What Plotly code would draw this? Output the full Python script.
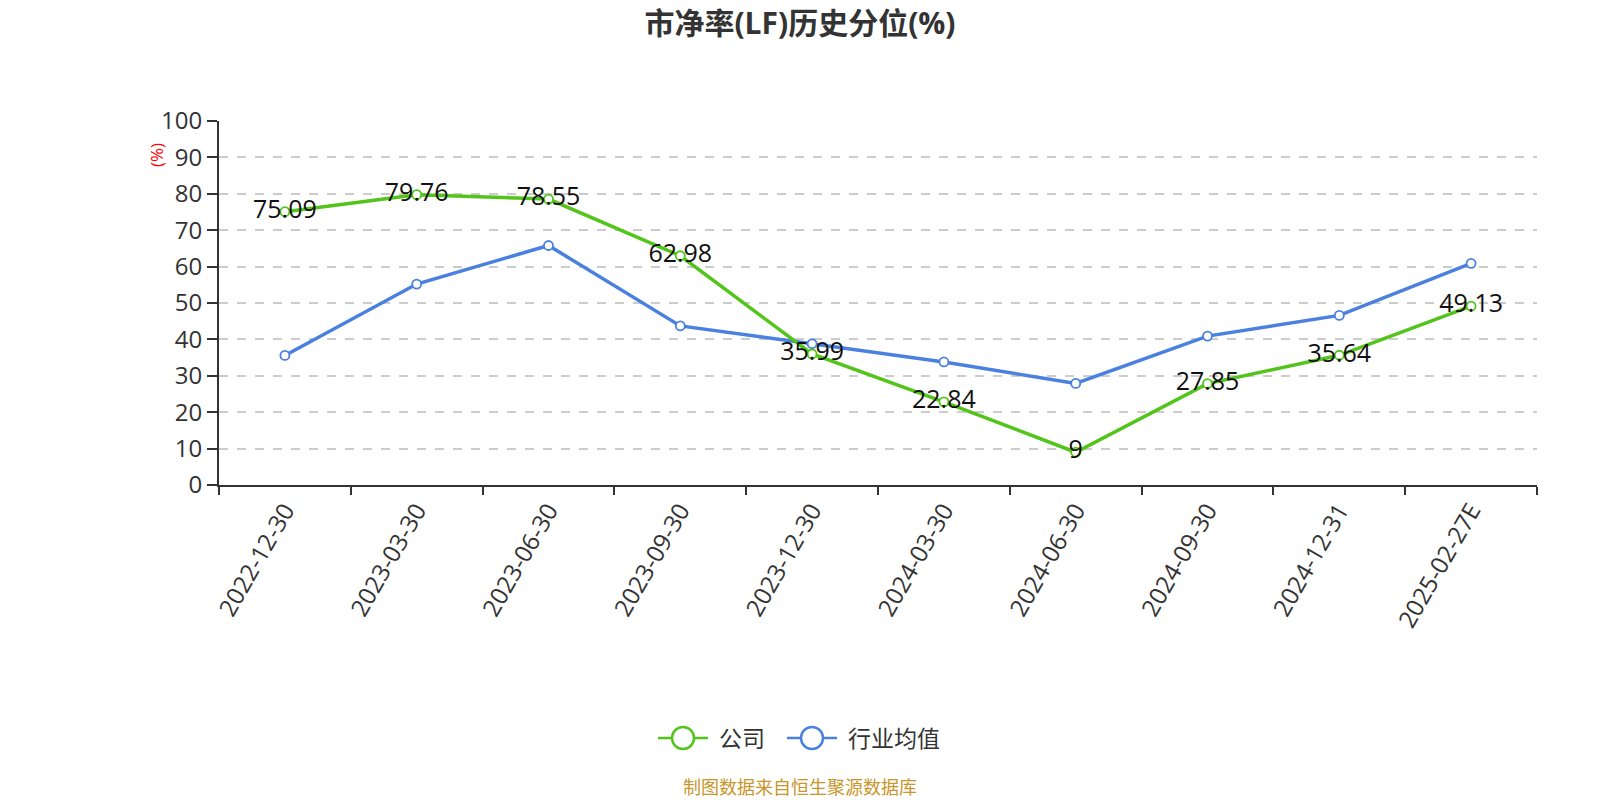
import plotly.graph_objects as go

categories = ["2022-12-30", "2023-03-30", "2023-06-30", "2023-09-30", "2023-12-30",
              "2024-03-30", "2024-06-30", "2024-09-30", "2024-12-31", "2025-02-27E"]
company = [75.09, 79.76, 78.55, 62.98, 35.99, 22.84, 9, 27.85, 35.64, 49.13]
industry = [35.6, 55.2, 65.8, 43.7, 38.8, 33.8, 27.9, 40.9, 46.6, 60.9]
company_labels = ["75.09", "79.76", "78.55", "62.98", "35.99", "22.84", "9", "27.85", "35.64", "49.13"]
series_names = ["公司", "行业均值"]

GREEN = "#52c41a"
BLUE = "#4a80e0"
FONT = "Open Sans, Noto Sans CJK SC, sans-serif"

L, R, T, B = 219, 63, 121, 315
PW = 1600 - L - R
PH = 800 - T - B


def px_x(x):
    return (x - L) / PW


def px_y(y):
    return (800 - B - y) / PH


fig = go.Figure()
fig.add_trace(go.Scatter(
    x=categories, y=industry, mode="lines+markers", name=series_names[1],
    line=dict(color=BLUE, width=3.5),
    marker=dict(symbol="circle", size=9, color="white", line=dict(color=BLUE, width=1.8)),
    showlegend=False, hoverinfo="skip"))
fig.add_trace(go.Scatter(
    x=categories, y=company, mode="lines+markers+text", name=series_names[0],
    line=dict(color=GREEN, width=3.5),
    marker=dict(symbol="circle", size=9, color="white", line=dict(color=GREEN, width=1.8)),
    text=company_labels, textposition="middle center",
    textfont=dict(size=25, color="#111111", family=FONT),
    showlegend=False, hoverinfo="skip"))

# manual legend (line + hollow circle + label)
shapes = []
annotations = []
legend_items = [(series_names[0], GREEN, 658), (series_names[1], BLUE, 787)]
LY = 738
for name, color, x0 in legend_items:
    shapes.append(dict(type="line", xref="paper", yref="paper",
                       x0=px_x(x0), x1=px_x(x0 + 50), y0=px_y(LY), y1=px_y(LY),
                       line=dict(color=color, width=2.5)))
    cx = x0 + 25
    shapes.append(dict(type="circle", xref="paper", yref="paper",
                       x0=px_x(cx - 11), x1=px_x(cx + 11), y0=px_y(LY + 11), y1=px_y(LY - 11),
                       fillcolor="white", line=dict(color=color, width=2.5)))
    annotations.append(dict(text=name, x=px_x(x0 + 59), y=px_y(LY), xref="paper", yref="paper",
                            xanchor="left", yanchor="middle", showarrow=False,
                            font=dict(size=23, color="#333333", family=FONT)))

annotations += [
    dict(text="(%)", x=px_x(156), y=px_y(155), xref="paper", yref="paper", showarrow=False,
         xanchor="center", yanchor="middle",
         textangle=-90, font=dict(size=17, color="red", family=FONT)),
    dict(text="制图数据来自恒生聚源数据库", x=px_x(800), xref="paper", y=px_y(787), yref="paper",
         xanchor="center", yanchor="middle", showarrow=False,
         font=dict(size=18, color="#c8962a", family=FONT)),
]

fig.update_layout(
    width=1600, height=800,
    margin=dict(l=L, r=R, t=T, b=B),
    paper_bgcolor="white", plot_bgcolor="white",
    font=dict(family=FONT, color="#333333"),
    showlegend=False,
    title=dict(text="<b>市净率(LF)历史分位(%)</b>", x=0.5, xanchor="center",
               y=1 - 23 / 800, yanchor="middle",
               font=dict(size=30, color="#333333", family=FONT)),
    xaxis=dict(
        type="category", range=[-0.5, 9.5], tickson="boundaries",
        showline=True, linecolor="#333333", linewidth=2,
        ticks="outside", ticklen=8, tickcolor="#333333", tickwidth=2,
        tickangle=-60, tickfont=dict(size=24, color="#333333", family=FONT),
        showgrid=False, zeroline=False, fixedrange=True),
    yaxis=dict(
        range=[0, 100], dtick=10, tick0=0,
        showline=True, linecolor="#333333", linewidth=2,
        ticks="outside", ticklen=10, tickcolor="#333333", tickwidth=2,
        tickfont=dict(size=24, color="#333333", family=FONT),
        showgrid=True, gridcolor="#cccccc", griddash="dash", gridwidth=1.5,
        zeroline=False, fixedrange=True),
    shapes=shapes,
    annotations=annotations,
)

fig.write_html("out.html")
